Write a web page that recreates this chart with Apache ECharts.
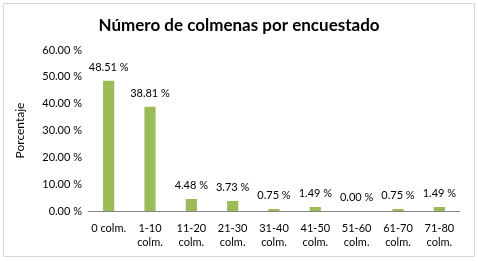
<!DOCTYPE html>
<html>
 <head>
  <meta charset="utf-8" />
  <script src="https://cdn.jsdelivr.net/npm/echarts@6/dist/echarts.min.js"></script>
 </head>
 <body style="margin: 0; background: #fff">
  <div id="main" style="width: 478px; height: 261px"></div>
  <script type="text/javascript">
   var categories = ['0 colm.', '1-10\ncolm.', '11-20\ncolm.', '21-30\ncolm.', '31-40\ncolm.', '41-50\ncolm.', '51-60\ncolm.', '61-70\ncolm.', '71-80\ncolm.'];
   var percentages = [48.51, 38.81, 4.48, 3.73, 0.75, 1.49, 0.00, 0.75, 1.49];
   var yTicks = [0, 10, 20, 30, 40, 50, 60];

   var myChart = echarts.init(document.getElementById('main'));
   var font = 'Lato, "Open Sans", sans-serif';
   var option = {
     animation: false,
     textStyle: { fontFamily: font },
     graphic: [{
       type: 'rect',
       shape: { x: 3.5, y: 3.5, width: 471, height: 253 },
       style: { fill: 'none', stroke: '#d9d9d9', lineWidth: 1 }
     }],
     title: {
       text: 'Número de colmenas por encuestado',
       left: 'center',
       top: 12,
       textStyle: { fontFamily: font, fontSize: 17, fontWeight: 'bold', color: '#000' }
     },
     grid: { left: 88, right: 18, top: 50, bottom: 50 },
     xAxis: {
       type: 'category',
       data: categories,
       axisLine: { lineStyle: { color: '#868686' } },
       axisTick: { show: false },
       axisLabel: { color: '#000', fontSize: 11, lineHeight: 14, margin: 10, interval: 0 }
     },
     yAxis: {
       type: 'value',
       min: yTicks[0],
       max: yTicks[yTicks.length - 1],
       interval: 10,
       name: 'Porcentaje',
       nameLocation: 'middle',
       nameGap: 62,
       nameTextStyle: { color: '#000', fontSize: 12 },
       splitLine: { show: false },
       axisLine: { show: false },
       axisLabel: {
         color: '#000',
         fontSize: 11,
         margin: 6,
         formatter: function (v) { return v.toFixed(2) + ' %'; }
       }
     },
     series: [{
       type: 'bar',
       data: percentages,
       barWidth: '27%',
       itemStyle: { color: '#9bbb59' },
       label: {
         show: true,
         position: 'top',
         distance: 8,
         color: '#000',
         fontSize: 11,
         formatter: function (p) { return p.value.toFixed(2) + ' %'; }
       }
     }]
   };
   myChart.setOption(option);
  </script>
 </body>
</html>
